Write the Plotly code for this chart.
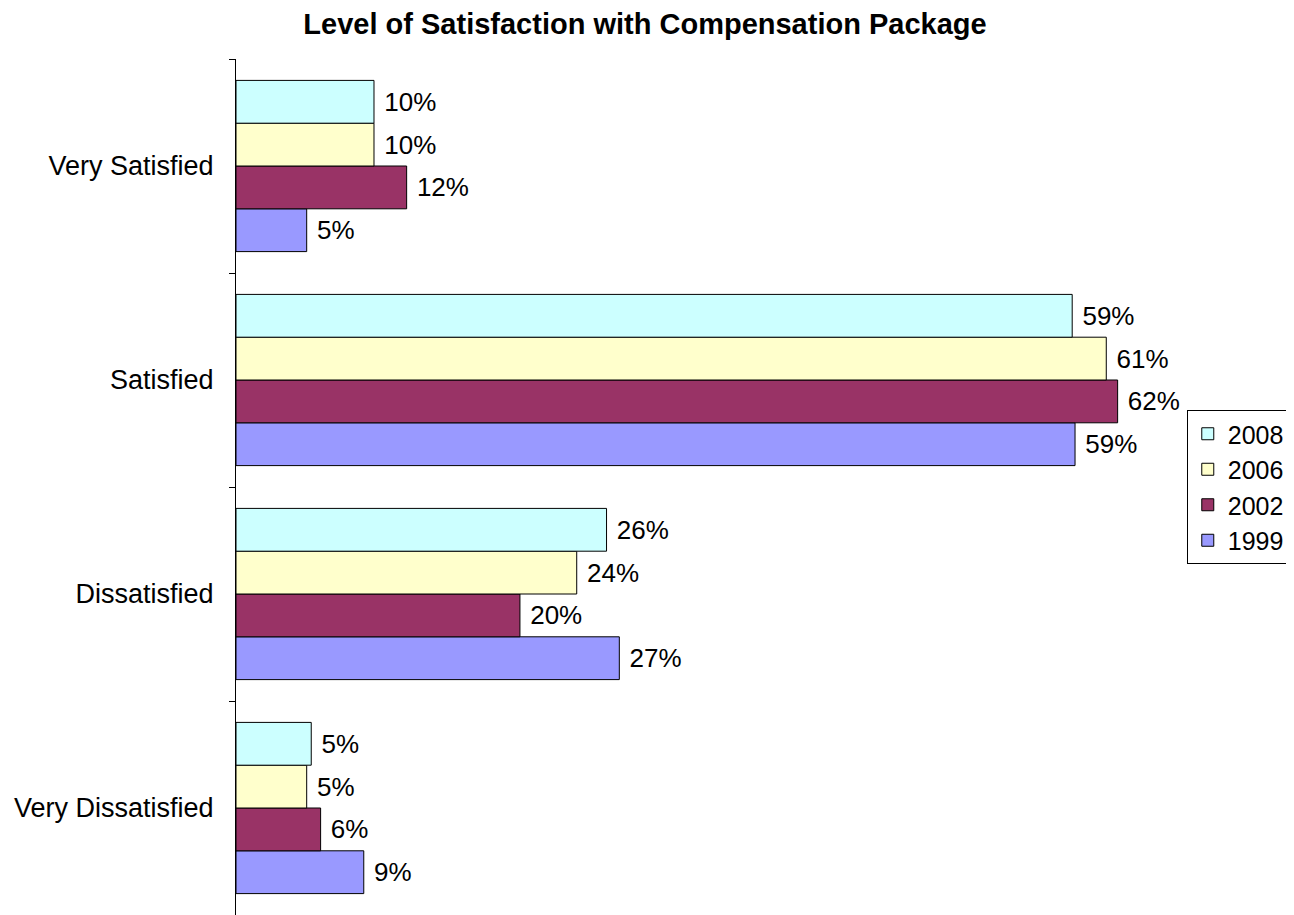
import plotly.graph_objects as go

categories = ["Very Dissatisfied", "Dissatisfied", "Satisfied", "Very Satisfied"]
years = ["1999", "2002", "2006", "2008"]
values_1999 = [9.0, 27.0, 59.1, 4.98]
values_2002 = [5.96, 20.0, 62.1, 12.02]
values_2006 = [4.98, 24.0, 61.3, 9.72]
values_2008 = [5.3, 26.1, 58.9, 9.72]
series = [values_1999, values_2002, values_2006, values_2008]
colors = ["#9999FF", "#993366", "#FFFFCC", "#CCFFFF"]

FONT = "Liberation Sans, Arial, sans-serif"

fig = go.Figure()
for name, vals, col in zip(years, series, colors):
    fig.add_trace(go.Bar(
        y=categories, x=vals, name=name, orientation="h",
        marker=dict(color=col, line=dict(color="black", width=1)),
        texttemplate=" %{x:.0f}%", textposition="outside",
        textfont=dict(family=FONT, size=26, color="black"),
        constraintext="none", cliponaxis=False, legendgroup=name,
    ))

fig.update_layout(
    width=1286, height=907,
    margin=dict(l=228, r=121, t=51, b=0),
    paper_bgcolor="white", plot_bgcolor="white",
    barmode="group", bargap=0.2, bargroupgap=0,
    font=dict(family=FONT, color="black"),
    title=dict(text="<b>Level of Satisfaction with Compensation Package</b>",
               font=dict(family=FONT, size=29, color="black"),
               x=(645 - 8) / 1286, xref="container", xanchor="center",
               y=1 - 6 / 907, yref="container", yanchor="top",
               pad=dict(t=0, b=0, l=0, r=0)),
    xaxis=dict(visible=False, range=[0, 66]),
    yaxis=dict(categoryorder="array", categoryarray=categories,
               showline=True, linecolor="black", linewidth=1,
               ticks="outside", tickson="boundaries", ticklen=6, tickcolor="black",
               ticklabelstandoff=16,
               tickfont=dict(family=FONT, size=27, color="black"),
               showgrid=False, zeroline=False),
    legend=dict(x=1.0147, xanchor="left", y=0.5, yanchor="middle",
                traceorder="reversed", tracegroupgap=5, itemwidth=30,
                bordercolor="black", borderwidth=1, bgcolor="white",
                font=dict(family=FONT, size=25, color="black")),
    showlegend=True,
)

fig.write_html("out.html")
